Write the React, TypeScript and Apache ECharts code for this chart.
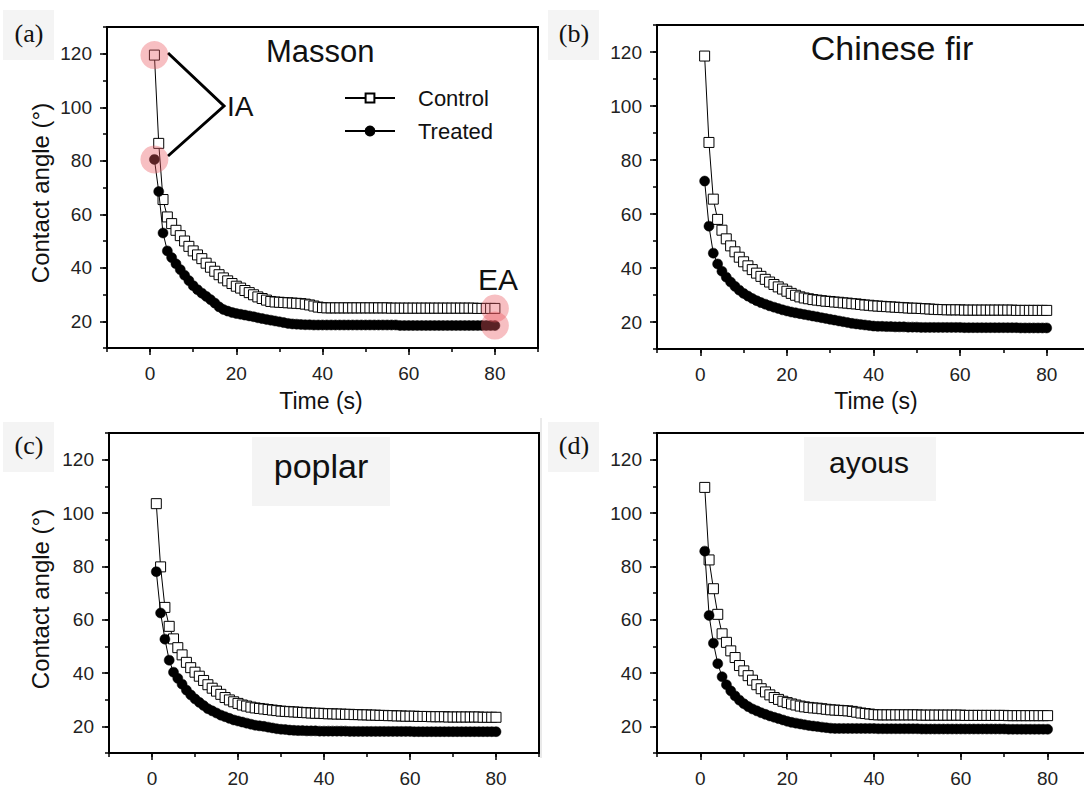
import React, { useEffect, useRef } from "react";
import * as echarts from "echarts";

// Time axis (s)
const TIME_S = [
  1, 2, 3, 4, 5, 6, 7, 8, 9, 10, 11, 12, 13, 14, 15, 16, 17, 18, 19, 20,
  21, 22, 23, 24, 25, 26, 27, 28, 29, 30, 31, 32, 33, 34, 35, 36, 37, 38, 39, 40,
  41, 42, 43, 44, 45, 46, 47, 48, 49, 50, 51, 52, 53, 54, 55, 56, 57, 58, 59, 60,
  61, 62, 63, 64, 65, 66, 67, 68, 69, 70, 71, 72, 73, 74, 75, 76, 77, 78, 79, 80,
];

// (a) Masson — contact angle (°)
const MASSON_CONTROL = [
  119.5, 86.5, 65.5, 59, 56.5, 54, 52, 50, 48, 46.3,
  44.8, 43.4, 41.7, 40.2, 38.7, 37.4, 36.2, 35.1, 34.1, 33.1,
  32.4, 31.5, 30.7, 29.9, 29.1, 28.5, 27.9, 27.4, 27.2, 27.1,
  27, 26.9, 26.8, 26.7, 26.6, 26.4, 26.1, 25.7, 25.3, 25.1,
  25, 25, 25, 25, 25, 25, 25, 25, 25, 25,
  25, 25, 25, 25, 25, 24.9, 24.9, 24.9, 24.9, 24.9,
  24.9, 24.9, 24.9, 24.9, 24.9, 24.9, 24.9, 24.9, 24.9, 24.9,
  24.9, 24.9, 24.9, 24.9, 24.9, 24.8, 24.8, 24.8, 24.8, 24.8,
];
const MASSON_TREATED = [
  80.5, 68.5, 53, 46.3, 43.8, 41.5, 39.3, 37.2, 35.2, 33.3,
  31.8, 30.5, 29.3, 28.1, 26.8, 25.4, 24.4, 23.8, 23.3, 22.9,
  22.6, 22.3, 22, 21.7, 21.3, 21, 20.7, 20.4, 20.1, 19.8,
  19.5, 19.2, 19, 18.9, 18.8, 18.7, 18.7, 18.6, 18.6, 18.6,
  18.6, 18.6, 18.6, 18.6, 18.6, 18.6, 18.6, 18.6, 18.6, 18.6,
  18.6, 18.6, 18.6, 18.6, 18.6, 18.6, 18.6, 18.4, 18.4, 18.4,
  18.4, 18.4, 18.4, 18.4, 18.4, 18.4, 18.4, 18.4, 18.4, 18.4,
  18.4, 18.4, 18.4, 18.4, 18.4, 18.4, 18.4, 18.4, 18.4, 18.4,
];

// (b) Chinese fir
const FIR_CONTROL = [
  118.5, 86.5, 65.5, 58, 54, 50.8, 48.2, 46, 44, 42.3,
  40.8, 39.4, 38.1, 36.9, 35.8, 34.8, 33.9, 33, 32.2, 31.4,
  30.6, 29.9, 29.3, 28.9, 28.6, 28.3, 28.1, 27.9, 27.7, 27.6,
  27.4, 27.3, 27.1, 27, 26.8, 26.7, 26.5, 26.3, 26.2, 26,
  25.9, 25.8, 25.7, 25.6, 25.5, 25.4, 25.3, 25.2, 25.1, 25.1,
  25, 24.9, 24.8, 24.7, 24.6, 24.6, 24.5, 24.5, 24.5, 24.5,
  24.4, 24.4, 24.4, 24.4, 24.4, 24.4, 24.4, 24.4, 24.4, 24.4,
  24.4, 24.4, 24.3, 24.3, 24.3, 24.3, 24.3, 24.3, 24.3, 24.3,
];
const FIR_TREATED = [
  72.2, 55.5, 45.5, 41.5, 38.8, 36.6, 34.8, 33.2, 31.8, 30.6,
  29.6, 28.7, 27.9, 27.2, 26.6, 26, 25.5, 25, 24.5, 24.1,
  23.7, 23.4, 23.1, 22.8, 22.5, 22.2, 21.9, 21.6, 21.3, 21,
  20.7, 20.4, 20.1, 19.8, 19.5, 19.3, 19.1, 18.9, 18.7, 18.5,
  18.4, 18.4, 18.3, 18.3, 18.2, 18.2, 18.2, 18.1, 18.1, 18.1,
  18, 18, 18, 18, 18, 18, 18, 18, 18, 18,
  17.9, 17.9, 17.9, 17.9, 17.9, 17.9, 17.9, 17.9, 17.9, 17.9,
  17.9, 17.9, 17.9, 17.8, 17.8, 17.8, 17.8, 17.8, 17.8, 17.8,
];

// (c) poplar
const POPLAR_CONTROL = [
  103.5, 79.8, 64.6, 57.5, 52.8, 49.5, 46.8, 44, 42, 40.3,
  38.8, 37.2, 35.6, 34.3, 33.2, 32, 30.8, 29.9, 29.2, 28.6,
  28, 27.6, 27.2, 26.9, 26.7, 26.5, 26.3, 26.1, 25.9, 25.7,
  25.6, 25.5, 25.4, 25.3, 25.2, 25.1, 25, 24.9, 24.9, 24.8,
  24.7, 24.7, 24.6, 24.6, 24.5, 24.5, 24.4, 24.4, 24.3, 24.3,
  24.2, 24.2, 24.1, 24.1, 24, 24, 23.9, 23.9, 23.8, 23.8,
  23.8, 23.7, 23.7, 23.7, 23.6, 23.6, 23.6, 23.6, 23.5, 23.5,
  23.5, 23.5, 23.5, 23.5, 23.5, 23.5, 23.4, 23.4, 23.4, 23.4,
];
const POPLAR_TREATED = [
  78, 62.5, 52.7, 44.8, 40.3, 38, 35.8, 33.6, 31.8, 30.3,
  29, 27.8, 26.6, 25.8, 25, 24.2, 23.6, 23, 22.4, 22,
  21.6, 21.2, 20.8, 20.4, 20.2, 20, 19.7, 19.4, 19.1, 18.9,
  18.8, 18.6, 18.5, 18.4, 18.4, 18.3, 18.3, 18.3, 18.2, 18.2,
  18.2, 18.2, 18.2, 18.2, 18.2, 18.1, 18.1, 18.1, 18.1, 18.1,
  18.1, 18.1, 18.1, 18.1, 18.1, 18.1, 18.1, 18.1, 18.1, 18.1,
  18, 18, 18, 18, 18, 18, 18, 18, 18, 18,
  18, 18, 18, 18, 18, 18, 18, 18, 18, 18,
];

// (d) ayous
const AYOUS_CONTROL = [
  109.6, 82.4, 71.6, 62, 54.7, 51.5, 48.3, 45.8, 42.8, 40.8,
  39, 37.3, 35.6, 34.1, 32.9, 31.8, 30.8, 30.1, 29.4, 28.9,
  28.4, 28, 27.6, 27.3, 27.1, 26.9, 26.8, 26.6, 26.4, 26.2,
  26.1, 26, 25.9, 25.8, 25.6, 25.3, 25, 24.8, 24.6, 24.4,
  24.3, 24.3, 24.3, 24.3, 24.3, 24.3, 24.3, 24.3, 24.3, 24.3,
  24.2, 24.2, 24.2, 24.2, 24.2, 24.2, 24.2, 24.2, 24.2, 24.2,
  24.1, 24.1, 24.1, 24.1, 24.1, 24.1, 24.1, 24.1, 24.1, 24.1,
  24, 24, 24, 24, 24, 24, 24, 24, 24, 24,
];
const AYOUS_TREATED = [
  85.7, 61.6, 51.2, 43.5, 38.6, 35.6, 33.3, 31.4, 29.8, 28.5,
  27.4, 26.5, 25.8, 25.1, 24.5, 23.9, 23.4, 22.9, 22.4, 21.9,
  21.5, 21.2, 20.9, 20.6, 20.3, 20.1, 19.9, 19.7, 19.5, 19.3,
  19.2, 19.2, 19.2, 19.2, 19.2, 19.2, 19.2, 19.2, 19.2, 19.2,
  19.1, 19.1, 19.1, 19.1, 19.1, 19.1, 19.1, 19.1, 19.1, 19.1,
  19, 19, 19, 19, 19, 19, 19, 19, 19, 19,
  19, 19, 19, 19, 19, 19, 19, 19, 19, 19,
  18.9, 18.9, 18.9, 18.9, 18.9, 18.9, 18.9, 18.9, 18.9, 18.9,
];

const X_LABELS = [0, 20, 40, 60, 80];
const Y_LABELS = [20, 40, 60, 80, 100, 120];

const SANS = "'Liberation Sans', Arial, Helvetica, sans-serif";
const SERIF = "'Liberation Serif', 'Times New Roman', serif";
const INK = "#111";
const HALO = "rgba(233, 88, 96, 0.48)";

type Panel = {
  tag: string;
  title: string;
  grid: { left: number; top: number; width: number; height: number };
  control: number[];
  treated: number[];
};

const PANELS: Panel[] = [
  { tag: "(a)", title: "Masson", grid: { left: 107, top: 27, width: 431, height: 321 }, control: MASSON_CONTROL, treated: MASSON_TREATED },
  { tag: "(b)", title: "Chinese fir", grid: { left: 657, top: 25, width: 433, height: 324 }, control: FIR_CONTROL, treated: FIR_TREATED },
  { tag: "(c)", title: "poplar", grid: { left: 109, top: 433, width: 430, height: 320 }, control: POPLAR_CONTROL, treated: POPLAR_TREATED },
  { tag: "(d)", title: "ayous", grid: { left: 657, top: 433, width: 434, height: 320 }, control: AYOUS_CONTROL, treated: AYOUS_TREATED },
];

function buildOption() {
  const grid: any[] = [];
  const xAxis: any[] = [];
  const yAxis: any[] = [];
  const series: any[] = [];

  PANELS.forEach((p, i) => {
    grid.push({ ...p.grid, show: true, borderColor: "#000", borderWidth: 2, backgroundColor: "transparent", outerBoundsMode: "none", containLabel: false });

    // minor ticks + labels
    xAxis.push({
      type: "value", gridIndex: i, position: "bottom", min: -10, max: 90, interval: 10,
      axisLine: { show: true, onZero: false, lineStyle: { color: "#000", width: 2 } },
      axisTick: { show: true, inside: false, length: 4, lineStyle: { color: "#000", width: 1.5 } },
      axisLabel: {
        show: true, margin: 16, fontSize: 19, fontFamily: SANS, color: "#222",
        formatter: (v: number) => (X_LABELS.indexOf(v) >= 0 ? String(v) : ""),
      },
      splitLine: { show: false },
    });
    // major ticks
    xAxis.push({
      type: "value", gridIndex: i, position: "bottom", min: -10, max: 90,
      axisLine: { show: false, onZero: false },
      axisTick: { show: true, length: 7, customValues: X_LABELS, lineStyle: { color: "#000", width: 1.5 } },
      axisLabel: { show: false },
      splitLine: { show: false },
    });
    yAxis.push({
      type: "value", gridIndex: i, position: "left", min: 10, max: 130, interval: 10,
      axisLine: { show: true, onZero: false, lineStyle: { color: "#000", width: 2 } },
      axisTick: { show: true, inside: false, length: 4, lineStyle: { color: "#000", width: 1.5 } },
      axisLabel: {
        show: true, margin: 15, fontSize: 19, fontFamily: SANS, color: "#222",
        formatter: (v: number) => (Y_LABELS.indexOf(v) >= 0 ? String(v) : ""),
      },
      splitLine: { show: false },
    });
    yAxis.push({
      type: "value", gridIndex: i, position: "left", min: 10, max: 130,
      axisLine: { show: false, onZero: false },
      axisTick: { show: true, length: 7, customValues: Y_LABELS, lineStyle: { color: "#000", width: 1.5 } },
      axisLabel: { show: false },
      splitLine: { show: false },
    });

    series.push({
      type: "line", name: "Control", xAxisIndex: 2 * i, yAxisIndex: 2 * i,
      data: TIME_S.map((t, k) => [t, p.control[k]]),
      symbol: "rect", symbolSize: 10, showSymbol: true,
      lineStyle: { color: "#000", width: 1 },
      itemStyle: { color: "#fff", borderColor: "#000", borderWidth: 1 },
      emphasis: { disabled: true }, silent: true, z: 3,
    });
    series.push({
      type: "line", name: "Treated", xAxisIndex: 2 * i, yAxisIndex: 2 * i,
      data: TIME_S.map((t, k) => [t, p.treated[k]]),
      symbol: "circle", symbolSize: 10, showSymbol: true,
      lineStyle: { color: "#000", width: 1 },
      itemStyle: { color: "#000", borderColor: "#000", borderWidth: 0.5 },
      emphasis: { disabled: true }, silent: true, z: 4,
    });
  });

  // highlight rings on the initial (IA) and equilibrium (EA) angles of Masson
  const last = TIME_S.length - 1;
  series.push({
    type: "scatter", name: "marks", xAxisIndex: 0, yAxisIndex: 0,
    data: [
      [TIME_S[0], MASSON_CONTROL[0]],
      [TIME_S[0], MASSON_TREATED[0]],
      [TIME_S[last], MASSON_CONTROL[last]],
      [TIME_S[last], MASSON_TREATED[last]],
    ],
    symbol: "circle", symbolSize: 28,
    itemStyle: { color: HALO },
    emphasis: { disabled: true }, silent: true, z: 10,
  });

  const graphic: any[] = [];
  const tagBoxes = [
    { x: 3, y: 10, text: "(a)" },
    { x: 548, y: 10, text: "(b)" },
    { x: 3, y: 422, text: "(c)" },
    { x: 548, y: 422, text: "(d)" },
  ];
  tagBoxes.forEach((b) => {
    graphic.push({ type: "rect", shape: { x: b.x, y: b.y, width: 51, height: 50 }, style: { fill: "#f4f4f4" }, silent: true, z: 0 });
    graphic.push({
      type: "text", x: b.x + 26, y: b.y + 23,
      style: { text: b.text, font: `26px ${SERIF}`, fill: INK, align: "center", verticalAlign: "middle" },
      silent: true, z: 1,
    });
  });

  // title boxes behind the lower titles
  graphic.push({ type: "rect", shape: { x: 252, y: 437, width: 138, height: 69 }, style: { fill: "#f4f4f4" }, silent: true, z: 0 });
  graphic.push({ type: "rect", shape: { x: 804, y: 437, width: 132, height: 64 }, style: { fill: "#f4f4f4" }, silent: true, z: 0 });

  const titles = [
    { x: 266, y: 51, text: "Masson", size: 31, align: "left" },
    { x: 892, y: 48, text: "Chinese fir", size: 34, align: "center" },
    { x: 321, y: 466, text: "poplar", size: 34, align: "center" },
    { x: 869, y: 462, text: "ayous", size: 30, align: "center" },
  ];
  titles.forEach((t) => {
    graphic.push({
      type: "text", x: t.x, y: t.y,
      style: { text: t.text, font: `${t.size}px ${SANS}`, fill: INK, align: t.align, verticalAlign: "middle" },
      silent: true, z: 5,
    });
  });

  // axis names
  [193, 599].forEach((cy) => {
    graphic.push({
      type: "text", x: 40, y: cy, rotation: Math.PI / 2,
      style: { text: "Contact angle (°)", font: `24px ${SANS}`, fill: INK, align: "center", verticalAlign: "middle" },
      silent: true, z: 5,
    });
  });
  [321, 876].forEach((cx) => {
    graphic.push({
      type: "text", x: cx, y: 401,
      style: { text: "Time (s)", font: `23px ${SANS}`, fill: INK, align: "center", verticalAlign: "middle" },
      silent: true, z: 5,
    });
  });

  // IA bracket and EA label
  graphic.push({
    type: "polyline", shape: { points: [[168, 53], [224, 106], [168, 156]] },
    style: { stroke: "#000", lineWidth: 3, fill: "none" }, silent: true, z: 5,
  });
  graphic.push({
    type: "text", x: 227, y: 106,
    style: { text: "IA", font: `28px ${SANS}`, fill: INK, align: "left", verticalAlign: "middle" },
    silent: true, z: 5,
  });
  graphic.push({
    type: "text", x: 498, y: 279,
    style: { text: "EA", font: `30px ${SANS}`, fill: INK, align: "center", verticalAlign: "middle" },
    silent: true, z: 5,
  });

  // faint seam between the lower panels
  graphic.push({
    type: "line", shape: { x1: 541, y1: 418, x2: 541, y2: 758 },
    style: { stroke: "#d4d4d4", lineWidth: 1 }, silent: true, z: 0,
  });

  return {
    animation: false,
    backgroundColor: "#fff",
    grid,
    xAxis,
    yAxis,
    series,
    graphic,
    legend: {
      show: true,
      data: ["Control", "Treated"],
      left: 339, top: 81, orient: "vertical",
      itemWidth: 50, itemHeight: 11, itemGap: 9,
      lineStyle: { width: 2 },
      textStyle: { fontSize: 22, fontFamily: SANS, color: INK, lineHeight: 24, padding: [0, 0, 0, 18] },
      selectedMode: false,
    },
  };
}

export default function App() {
  const ref = useRef<HTMLDivElement>(null);
  useEffect(() => {
    document.body.style.margin = "0";
    if (!ref.current) return;
    const chart = echarts.init(ref.current, null, { renderer: "svg" });
    chart.setOption(buildOption() as any);
    return () => chart.dispose();
  }, []);
  return <div ref={ref} style={{ width: 1084, height: 785 }} />;
}
